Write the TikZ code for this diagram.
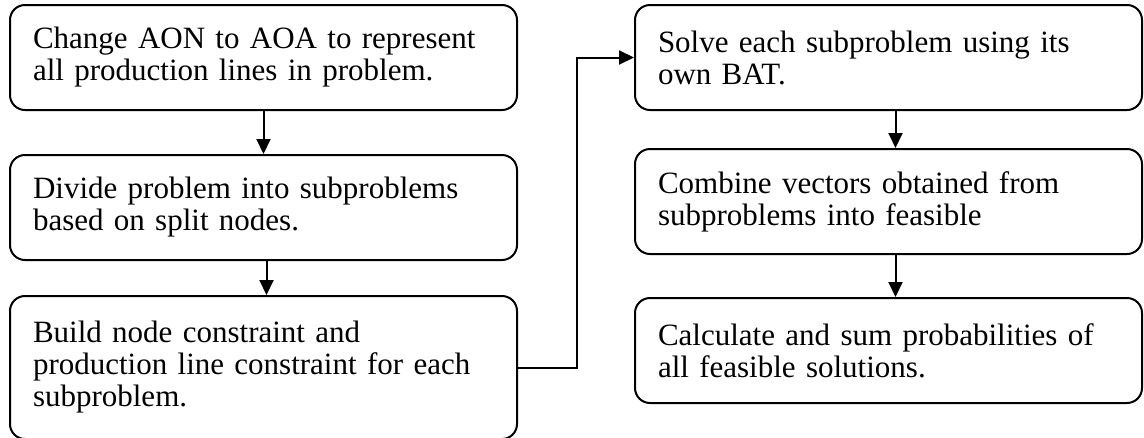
\documentclass[tikz,border=0pt]{standalone}
\usepackage{fontspec}
\setmainfont{Liberation Serif}
\usetikzlibrary{arrows.meta,positioning}

\tikzset{
	stepbox/.style={draw, line width=2pt, rounded corners=15pt, text width=461pt, align=left,
		inner xsep=23pt, minimum height=105pt, font=\fontsize{31}{32}\selectfont},
	flow/.style={-{Triangle[length=15pt,width=14pt]}, line width=2pt}
}

\begin{document}
\begin{tikzpicture}[x=1pt,y=1pt]
	\useasboundingbox (0,0) rectangle (1144,-437);
	\node[stepbox,anchor=north west] (change_aon) at (9,-4) {Change AON to AOA to represent\\all production lines in problem.};
	\node[stepbox,below=43pt of change_aon] (divide_sub) {Divide problem into subproblems\\based on split nodes.};
	\node[stepbox,below=34pt of divide_sub,minimum height=143pt] (build_cons) {Build node constraint and\\production line constraint for each\\subproblem.};
	\node[stepbox,anchor=north west] (solve_bat) at (634,-4) {Solve each subproblem using its\\own BAT.};
	\node[stepbox,below=37pt of solve_bat] (combine_vec) {Combine vectors obtained from\\subproblems into feasible};
	\node[stepbox,below=42pt of combine_vec] (calc_prob) {Calculate and sum probabilities of\\all feasible solutions.};
	\draw[flow] (change_aon) -- (divide_sub);
	\draw[flow] ([xshift=3pt]divide_sub.south) -- ([xshift=3pt]build_cons.north);
	\draw[flow] (build_cons.east) -- ++(59,0) |- (solve_bat.west);
	\draw[flow] ([xshift=7pt]solve_bat.south) -- ([xshift=7pt]combine_vec.north);
	\draw[flow] ([xshift=7pt]combine_vec.south) -- ([xshift=7pt]calc_prob.north);
\end{tikzpicture}
\end{document}
